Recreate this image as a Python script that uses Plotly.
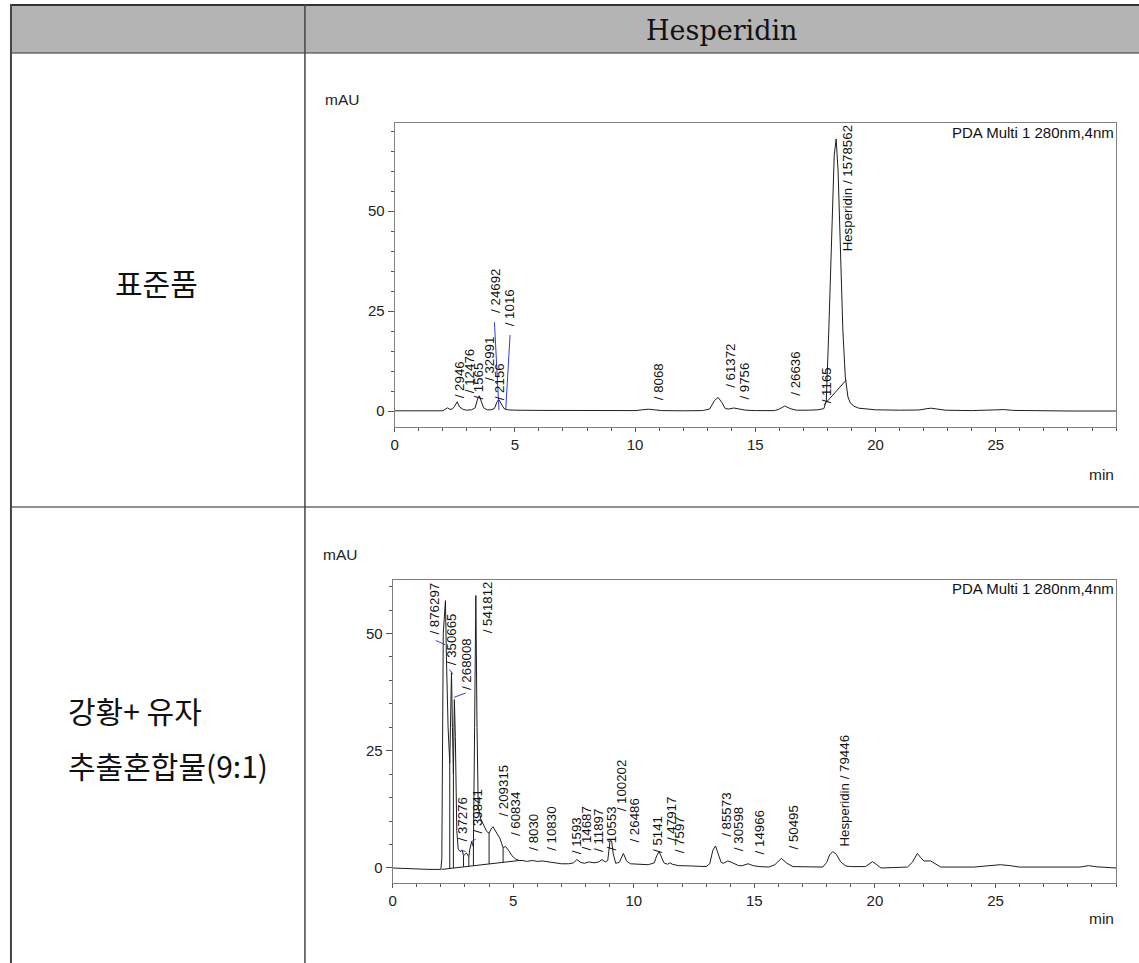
import numpy as np
import plotly.graph_objects as go

# ---------------- data ----------------
# Standard (표준품) chromatogram, PDA 280 nm: retention time (min) / signal (mAU)
std_t = [0.0, 1.0, 2.0, 2.1, 2.2, 2.3, 2.4, 2.5, 2.6, 2.7, 2.85, 3.0, 3.2, 3.35, 3.45, 3.52,
         3.6, 3.7, 3.85, 4.0, 4.15, 4.25, 4.33, 4.42, 4.55, 4.7, 5.0, 6.0, 7.0, 8.0, 9.0,
         10.0, 10.3, 10.55, 10.8, 11.1, 12.0, 12.8, 13.1, 13.3, 13.45, 13.6, 13.75, 13.9,
         14.1, 14.3, 14.6, 15.0, 15.8, 16.0, 16.22, 16.45, 16.7, 17.2, 17.6, 17.85, 17.95,
         18.05, 18.17, 18.28, 18.36, 18.44, 18.52, 18.64, 18.74, 18.85, 18.95, 19.1, 19.3,
         19.6, 20.0, 21.0, 21.8, 22.1, 22.3, 22.55, 22.9, 24.0, 25.0, 25.35, 25.7, 26.5,
         28.0, 30.0]
std_y = [0.05, 0.05, 0.05, 0.4, 0.8, 0.4, 0.5, 1.2, 2.3, 1.0, 0.4, 0.2, 0.3, 0.8, 3.0, 3.8,
         2.5, 0.8, 0.3, 0.3, 0.6, 2.2, 2.9, 2.0, 0.6, 0.3, 0.2, 0.15, 0.1, 0.1, 0.05,
         0.1, 0.3, 0.45, 0.3, 0.1, 0.05, 0.1, 0.5, 2.6, 3.4, 2.2, 0.6, 0.5,
         0.75, 0.5, 0.2, 0.1, 0.1, 0.5, 1.25, 0.6, 0.2, 0.2, 0.3, 0.6, 2.5,
         19.5, 46.0, 64.0, 68.0, 60.0, 44.0, 20.0, 8.5, 3.5, 2.0, 1.2, 0.7,
         0.45, 0.3, 0.2, 0.25, 0.55, 0.7, 0.5, 0.2, 0.1, 0.15, 0.35, 0.15, 0.05,
         0.0, 0.0]

# integration baseline segment under the hesperidin peak (t0, y0, t1, y1)
std_baselines = [(17.85, 1.5, 18.78, 7.75)]
# blue integration-event markers (t0, y0, t1, y1)
std_events = [(4.15, 22.2, 4.34, 0.25), (4.80, 19.0, 4.62, 0.25)]

# peak labels: text, retention time, label foot (mAU)
std_lbl_text = ["/ 2946", "/ 12476", "/ 1565", "/ 32991", "/ 2156", "/ 24692", "/ 1016",
                "/ 8068", "/ 61372", "/ 9756", "/ 26636", "/ 1165", "Hesperidin / 1578562"]
std_lbl_t = [2.71, 3.10, 3.48, 3.95, 4.34, 4.17, 4.78, 10.95, 13.94, 14.54, 16.67, 17.95, 18.81]
std_lbl_y = [2.75, 4.0, 2.3, 6.9, 2.3, 24.0, 20.7, 2.3, 5.25, 2.3, 3.2, 1.5, 39.4]

# 강황 + 유자 extract mixture (9:1) chromatogram
mix_t = [0.0, 0.5, 1.0, 1.5, 2.0, 2.04, 2.10, 2.16, 2.19, 2.23, 2.30, 2.37, 2.41, 2.44, 2.48,
         2.52, 2.56, 2.60, 2.66, 2.72, 2.8, 2.89, 2.94, 3.06, 3.16, 3.2, 3.28, 3.35, 3.40,
         3.45, 3.50, 3.55, 3.65, 3.75, 3.9, 4.0, 4.08, 4.16, 4.3, 4.45, 4.58, 4.68, 4.8,
         4.95, 5.1, 5.25, 5.4, 5.55, 5.8, 6.0, 6.2, 6.45, 6.7, 7.0, 7.3, 7.5, 7.64, 7.8,
         7.95, 8.15, 8.35, 8.55, 8.68, 8.82, 8.92, 8.97, 9.02, 9.08, 9.15, 9.25, 9.4, 9.57,
         9.7, 9.86, 10.2, 10.6, 10.85, 10.95, 11.05, 11.15, 11.25, 11.4, 11.5, 11.6, 11.85,
         12.3, 12.65, 13.0, 13.15, 13.28, 13.39, 13.5, 13.62, 13.72, 13.9, 14.1, 14.35,
         14.5, 14.74, 14.95, 15.2, 15.6, 15.85, 16.12, 16.35, 16.6, 17.2, 17.84, 18.0,
         18.12, 18.25, 18.4, 18.58, 18.8, 19.0, 19.6, 19.75, 19.9, 20.05, 20.25, 20.8,
         21.35, 21.55, 21.76, 21.9, 22.03, 22.31, 22.5, 22.73, 24.1, 24.6, 25.2, 25.6,
         26.0, 28.5, 28.86, 29.2, 30.0]
mix_y = [0.0, -0.15, -0.25, -0.3, -0.3, 2.0, 50.0, 56.5, 57.0, 45.0, 30.0, 22.3, 38.0, 41.8, 30.0,
         20.0, 35.9, 28.0, 8.0, 4.0, 3.5, 3.8, 2.6, 3.2, 2.4, 4.0, 5.6, 4.5, 30.0,
         58.1, 30.0, 13.0, 10.5, 9.3, 7.8, 7.4, 8.3, 8.8, 7.6, 6.3, 4.3, 4.6, 3.8,
         2.6, 1.9, 1.6, 1.6, 1.4, 1.6, 1.4, 1.5, 1.3, 1.0, 0.9, 0.9, 1.1, 1.8, 1.2,
         1.0, 1.3, 1.1, 1.3, 1.8, 1.3, 1.6, 4.5, 6.0, 5.8, 3.0, 1.0, 1.2, 3.1,
         1.5, 0.9, 0.8, 0.7, 1.1, 2.6, 3.5, 2.3, 1.1, 0.8, 1.1, 0.8, 0.5,
         0.45, 0.4, 0.3, 0.9, 3.8, 4.7, 3.0, 1.2, 1.0, 1.5, 1.1, 0.5,
         0.5, 0.9, 0.5, 0.3, 0.2, 0.7, 2.05, 1.0, 0.3, 0.2, 0.2, 1.2,
         2.8, 3.5, 2.9, 1.3, 0.4, 0.3, 0.3, 0.8, 1.35, 0.8, 0.0, 0.1,
         0.2, 1.2, 3.1, 2.2, 1.5, 1.5, 0.9, 0.2, 0.2, 0.5, 0.7, 0.5,
         0.2, 0.2, 0.5, 0.25, 0.0]

mix_baselines = [(2.04, -0.3, 5.25, 1.6)]
# perpendicular drop times between unresolved peaks
mix_drops = [2.37, 2.52, 2.94, 3.16, 3.35, 4.0, 4.58]
mix_events = [(1.79, 48.5, 2.18, 47.6), (2.36, 42.3, 2.50, 41.3), (2.55, 36.4, 3.03, 37.3),
              (2.82, 3.8, 3.03, 3.5), (3.24, 5.6, 3.44, 6.1)]

mix_lbl_text = ["/ 876297", "/ 350665", "/ 268008", "/ 541812", "/ 37276", "/ 39841",
                "/ 209315", "/ 60834", "/ 8030", "/ 10830", "/ 1593", "/ 14687", "/ 11897",
                "/ 10553", "/ 100202", "/ 26486", "/ 5141", "/ 47917", "/ 7597", "/ 85573",
                "/ 30598", "/ 14966", "/ 50495", "Hesperidin / 79446"]
mix_lbl_t = [1.75, 2.44, 3.06, 3.93, 2.89, 3.51, 4.59, 5.10, 5.81, 6.58, 7.60, 8.06, 8.54,
             9.06, 9.48, 9.99, 10.99, 11.54, 11.91, 13.84, 14.35, 15.22, 16.64, 18.73]
mix_lbl_y = [49.3, 42.9, 37.6, 49.7, 5.3, 7.0, 10.6, 6.3, 3.3, 3.3, 2.6, 3.3, 3.0,
             3.3, 11.7, 4.9, 2.8, 5.3, 2.8, 6.3, 3.1, 2.4, 3.5, 4.2]

header_text = "Hesperidin"
row_labels = ["표준품", ["강황+ 유자", "추출혼합물(9:1)"]]
detector_text = "PDA Multi 1 280nm,4nm"

# ---------------- layout helpers ----------------
W, H = 1139, 963


def fx(px):
    return px / W


def fy(py):
    return 1 - py / H


LINE = "#1e1e1e"
SANS = "Liberation Sans, Arial, sans-serif"
KR = "Noto Sans CJK KR"

fig = go.Figure()


def add_panel(xa, ya, t, y, baselines, events, drops, lbl_text, lbl_t, lbl_y):
    fig.add_trace(go.Scatter(x=t, y=y, mode="lines", xaxis=xa, yaxis=ya,
                             line=dict(color=LINE, width=1), hoverinfo="skip",
                             showlegend=False))
    for (t0, y0, t1, y1) in baselines:
        fig.add_trace(go.Scatter(x=[t0, t1], y=[y0, y1], mode="lines", xaxis=xa, yaxis=ya,
                                 line=dict(color=LINE, width=1), showlegend=False,
                                 hoverinfo="skip"))
        for td in drops:
            yb = y0 + (y1 - y0) * (td - t0) / (t1 - t0)
            ys = float(np.interp(td, t, y))
            fig.add_trace(go.Scatter(x=[td, td], y=[yb, ys], mode="lines", xaxis=xa,
                                     yaxis=ya, line=dict(color=LINE, width=1),
                                     showlegend=False, hoverinfo="skip"))
    for (t0, y0, t1, y1) in events:
        fig.add_trace(go.Scatter(x=[t0, t1], y=[y0, y1], mode="lines", xaxis=xa, yaxis=ya,
                                 line=dict(color="#3a3ad8", width=1), showlegend=False,
                                 hoverinfo="skip"))
    for txt, tt, yy in zip(lbl_text, lbl_t, lbl_y):
        fig.add_annotation(x=tt, y=yy, xref=xa, yref=ya, text=txt, textangle=-90,
                           showarrow=False, xanchor="center", yanchor="bottom",
                           font=dict(family=SANS, size=13.3, color="#111"))


add_panel("x", "y", std_t, std_y, std_baselines, std_events, [], std_lbl_text,
          std_lbl_t, std_lbl_y)
add_panel("x2", "y2", mix_t, mix_y, mix_baselines, mix_events, mix_drops, mix_lbl_text,
          mix_lbl_t, mix_lbl_y)


def xaxis_cfg(domain, anchor):
    return dict(domain=domain, anchor=anchor, range=[0, 30], showgrid=False, zeroline=False,
                showline=True, mirror=True, linecolor="#808080", linewidth=1,
                ticks="outside", ticklen=4, tickcolor="#555", tickvals=[0, 5, 10, 15, 20, 25],
                minor=dict(dtick=1, tick0=0, ticks="outside", ticklen=3, tickcolor="#555"),
                tickfont=dict(family=SANS, size=15, color="#222"), fixedrange=True)


def yaxis_cfg(domain, anchor, rng):
    return dict(domain=domain, anchor=anchor, range=rng, showgrid=False, zeroline=False,
                showline=True, mirror=True, linecolor="#808080", linewidth=1,
                ticks="outside", ticklen=6, tickcolor="#555", tickvals=[0, 25, 50],
                minor=dict(dtick=5, tick0=0, ticks="outside", ticklen=3, tickcolor="#555"),
                tickfont=dict(family=SANS, size=15, color="#222"), fixedrange=True)


fig.update_layout(
    width=W, height=H, margin=dict(l=0, r=0, t=0, b=0),
    paper_bgcolor="white", plot_bgcolor="white", showlegend=False,
    xaxis=xaxis_cfg([fx(392), fx(1116)], "y"),
    yaxis=yaxis_cfg([fy(427), fy(123)], "x", [-4, 72]),
    xaxis2=xaxis_cfg([fx(390), fx(1116)], "y2"),
    yaxis2=yaxis_cfg([fy(883), fy(580)], "x2", [-3.2, 61.4]),
)

# ---------------- table frame ----------------
shapes = [
    dict(type="rect", xref="paper", yref="paper", x0=fx(7), x1=fx(1145), y0=fy(53), y1=fy(5),
         fillcolor="#b4b4b4", line=dict(width=0), layer="below"),
    dict(type="line", xref="paper", yref="paper", x0=fx(7), x1=fx(1145), y0=fy(5), y1=fy(5),
         line=dict(color="#333", width=2)),
    dict(type="line", xref="paper", yref="paper", x0=fx(7), x1=fx(1145), y0=fy(53), y1=fy(53),
         line=dict(color="#333", width=1)),
    dict(type="line", xref="paper", yref="paper", x0=fx(7), x1=fx(1145), y0=fy(507), y1=fy(507),
         line=dict(color="#222", width=1)),
    dict(type="line", xref="paper", yref="paper", x0=fx(7), x1=fx(7), y0=fy(4), y1=fy(970),
         line=dict(color="#444", width=2)),
    dict(type="line", xref="paper", yref="paper", x0=fx(302), x1=fx(302), y0=fy(4), y1=fy(970),
         line=dict(color="#444", width=1.5)),
]
fig.update_layout(shapes=shapes)

ann = [
    dict(x=fx(721), y=fy(30), text=header_text, font=dict(family="DejaVu Serif", size=27,
                                                          color="#111")),
    dict(x=fx(153), y=fy(282), text=row_labels[0], font=dict(family=KR, size=30, color="#111")),
    dict(x=fx(62), y=fy(710), text=row_labels[1][0], xanchor="left",
         font=dict(family=KR, size=30, color="#111")),
    dict(x=fx(62), y=fy(765), text=row_labels[1][1], xanchor="left",
         font=dict(family=KR, size=30, color="#111")),
    # panel texts
    dict(x=fx(320), y=fy(99), text="mAU", xanchor="left",
         font=dict(family=SANS, size=15.5, color="#222")),
    dict(x=fx(1116), y=fy(133), text=detector_text, xanchor="right",
         font=dict(family=SANS, size=15, color="#111")),
    dict(x=fx(1116), y=fy(474), text="min", xanchor="right",
         font=dict(family=SANS, size=15.5, color="#222")),
    dict(x=fx(318), y=fy(554), text="mAU", xanchor="left",
         font=dict(family=SANS, size=15.5, color="#222")),
    dict(x=fx(1116), y=fy(588), text=detector_text, xanchor="right",
         font=dict(family=SANS, size=15, color="#111")),
    dict(x=fx(1116), y=fy(918), text="min", xanchor="right",
         font=dict(family=SANS, size=15.5, color="#222")),
]
for a in ann:
    a.setdefault("xanchor", "center")
    fig.add_annotation(xref="paper", yref="paper", showarrow=False, yanchor="middle", **a)

fig.write_html("out.html")
